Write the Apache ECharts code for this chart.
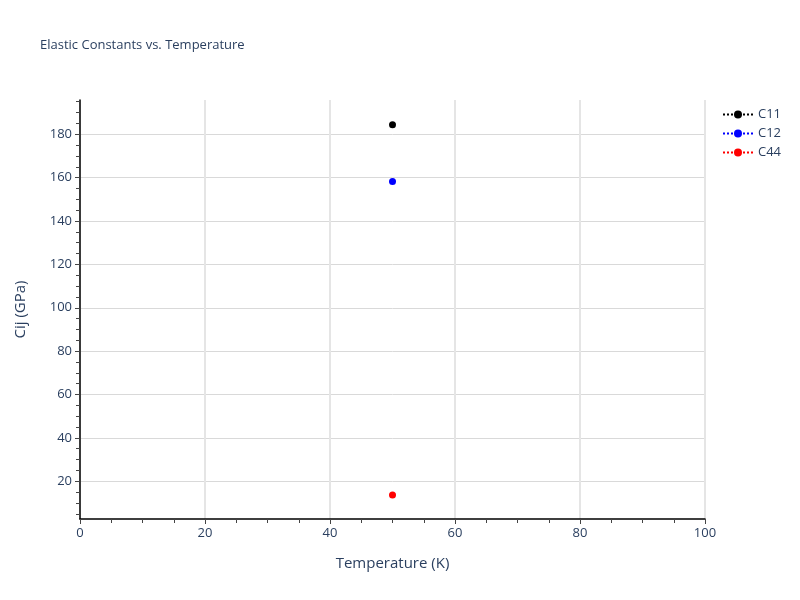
<!DOCTYPE html>
<html>
<head>
<meta charset="utf-8">
<script src="https://cdn.jsdelivr.net/npm/echarts@6/dist/echarts.min.js"></script>
<style>html,body{margin:0;padding:0;background:#fff;} #main{width:800px;height:600px;}</style>
</head>
<body>
<div id="main"></div>
<script>
// data
const temps = [50];
const c11 = [184.4];
const c12 = [158.2];
const c44 = [13.7];
const seriesNames = ['C11', 'C12', 'C44'];
const seriesColors = ['#000000', '#0000ff', '#ff0000'];
const yTicks = [20, 40, 60, 80, 100, 120, 140, 160, 180];
const yMinorTicks = [5, 10, 15, 20, 25, 30, 35, 40, 45, 50, 55, 60, 65, 70, 75, 80, 85, 90, 95,
  100, 105, 110, 115, 120, 125, 130, 135, 140, 145, 150, 155, 160, 165, 170, 175, 180, 185, 190, 195];

const yMin = 2.6, yMax = 195.8;
const fontFam = '"Open Sans", Verdana, Arial, sans-serif';
const txt = '#2a3f5f';

let chart = echarts.init(document.getElementById('main'));

function mk(name, vals, color) {
  return {
    name: name,
    type: 'line',
    data: temps.map((t, i) => [t, vals[i]]),
    symbol: 'circle',
    symbolSize: 7,
    itemStyle: {color: color},
    lineStyle: {color: color, type: 'dotted', width: 2},
    yAxisIndex: 0
  };
}

const option = {
  animation: false,
  title: {
    text: 'Elastic Constants vs. Temperature',
    left: 35, top: 34,
    textStyle: {fontFamily: fontFam, fontSize: 13, fontWeight: 'normal', color: txt}
  },
  legend: {
    orient: 'vertical',
    left: 717, top: 103,
    itemWidth: 30, itemHeight: 10, itemGap: 6,
    textStyle: {fontFamily: fontFam, fontSize: 13, color: txt},
    data: seriesNames
  },
  grid: {left: 80, right: 95, top: 100, bottom: 81},
  xAxis: {
    type: 'value', min: 0, max: 100, interval: 20,
    name: 'Temperature (K)', nameLocation: 'middle', nameGap: 37,
    nameTextStyle: {fontFamily: fontFam, fontSize: 15, color: txt},
    axisLine: {show: true, onZero: false, lineStyle: {color: '#000', width: 1.5}},
    axisTick: {show: true, length: 5, lineStyle: {color: '#444'}},
    minorTick: {show: true, splitNumber: 4, length: 4, lineStyle: {color: '#444'}},
    axisLabel: {fontFamily: fontFam, fontSize: 13, color: txt, margin: 8},
    splitLine: {show: true, lineStyle: {color: '#e5e5e5', width: 2}}
  },
  yAxis: [{
    type: 'value', min: yMin, max: yMax,
    name: 'Cij (GPa)', nameLocation: 'middle', nameGap: 52,
    nameTextStyle: {fontFamily: fontFam, fontSize: 15, color: txt},
    axisLine: {show: true, onZero: false, lineStyle: {color: '#000', width: 1.5}},
    axisTick: {show: true, length: 5, customValues: yTicks, lineStyle: {color: '#444'}},
    axisLabel: {fontFamily: fontFam, fontSize: 13, color: txt, margin: 8, customValues: yTicks},
    splitLine: {show: true, lineStyle: {color: '#d9d9d9', width: 1}}
  }, {
    type: 'value', min: yMin, max: yMax, position: 'left',
    axisLine: {show: false},
    axisTick: {show: true, length: 4, customValues: yMinorTicks, lineStyle: {color: '#444'}},
    axisLabel: {show: false, customValues: yMinorTicks},
    splitLine: {show: false}
  }],
  series: [
    mk(seriesNames[0], c11, seriesColors[0]),
    mk(seriesNames[1], c12, seriesColors[1]),
    mk(seriesNames[2], c44, seriesColors[2])
  ]
};
chart.setOption(option);
</script>
</body>
</html>
